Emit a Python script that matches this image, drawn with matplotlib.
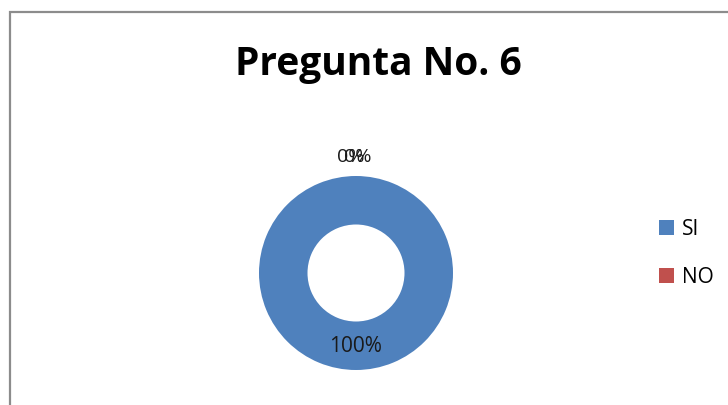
import matplotlib
matplotlib.use('Agg')
import matplotlib.pyplot as plt
from matplotlib.patches import Rectangle, Patch
import numpy as np

# datos de la pregunta
categorias = ['SI', 'NO']
valores = [100, 0]
colores = ['#4F81BD', '#C0504D']
titulo = 'Pregunta No. 6'

plt.rcParams['font.family'] = ['Open Sans', 'DejaVu Sans']

fig = plt.figure(figsize=(7.28, 4.05), dpi=100)

# marco gris del grafico
fig.patches.append(Rectangle((10 / 728, -0.1), 1.2, 1 - 12 / 405 + 0.1,
                             transform=fig.transFigure, fill=False,
                             edgecolor='#8c8c8c', linewidth=1.6))

# donut
cx, cy, r = 356, 273, 97
ax = fig.add_axes([(cx - r) / 728, (405 - cy - r) / 405, 2 * r / 728, 2 * r / 405])
wedges, _ = ax.pie(valores, colors=colores, startangle=90, counterclock=False,
                   radius=1, wedgeprops=dict(width=0.5, edgecolor='none'))
ax.set_xlim(-1, 1)
ax.set_ylim(-1, 1)
ax.set_aspect('equal')
ax.axis('off')

# etiquetas de porcentaje
total = sum(valores)
for w, v in zip(wedges, valores):
    ang = np.deg2rad((w.theta1 + w.theta2) / 2)
    pct = '{:.0f}%'.format(100 * v / total)
    if v == 0:
        # etiqueta fuera del anillo (se ven dos superpuestas en el original)
        for dx in (-0.05, 0.02):
            ax.text(1.2 * np.cos(ang) + dx, 1.2 * np.sin(ang), pct,
                    ha='center', va='center', fontsize=14, color='#1a1a1a',
                    clip_on=False)
    else:
        ax.text(0.76 * np.cos(ang), 0.76 * np.sin(ang), pct,
                ha='center', va='center', fontsize=15, color='#1a1a1a')

fig.text(0.52, 0.84, titulo, ha='center', va='center', fontsize=28,
         fontweight='bold', color='black')

handles = [Patch(facecolor=c, edgecolor='none') for c in colores]
fig.legend(handles, categorias, loc='center left', bbox_to_anchor=(0.88, 0.375),
           frameon=False, fontsize=15, handlelength=0.7, handleheight=0.7,
           handletextpad=0.4, labelspacing=1.3)

fig.savefig('out.png', dpi=100)
